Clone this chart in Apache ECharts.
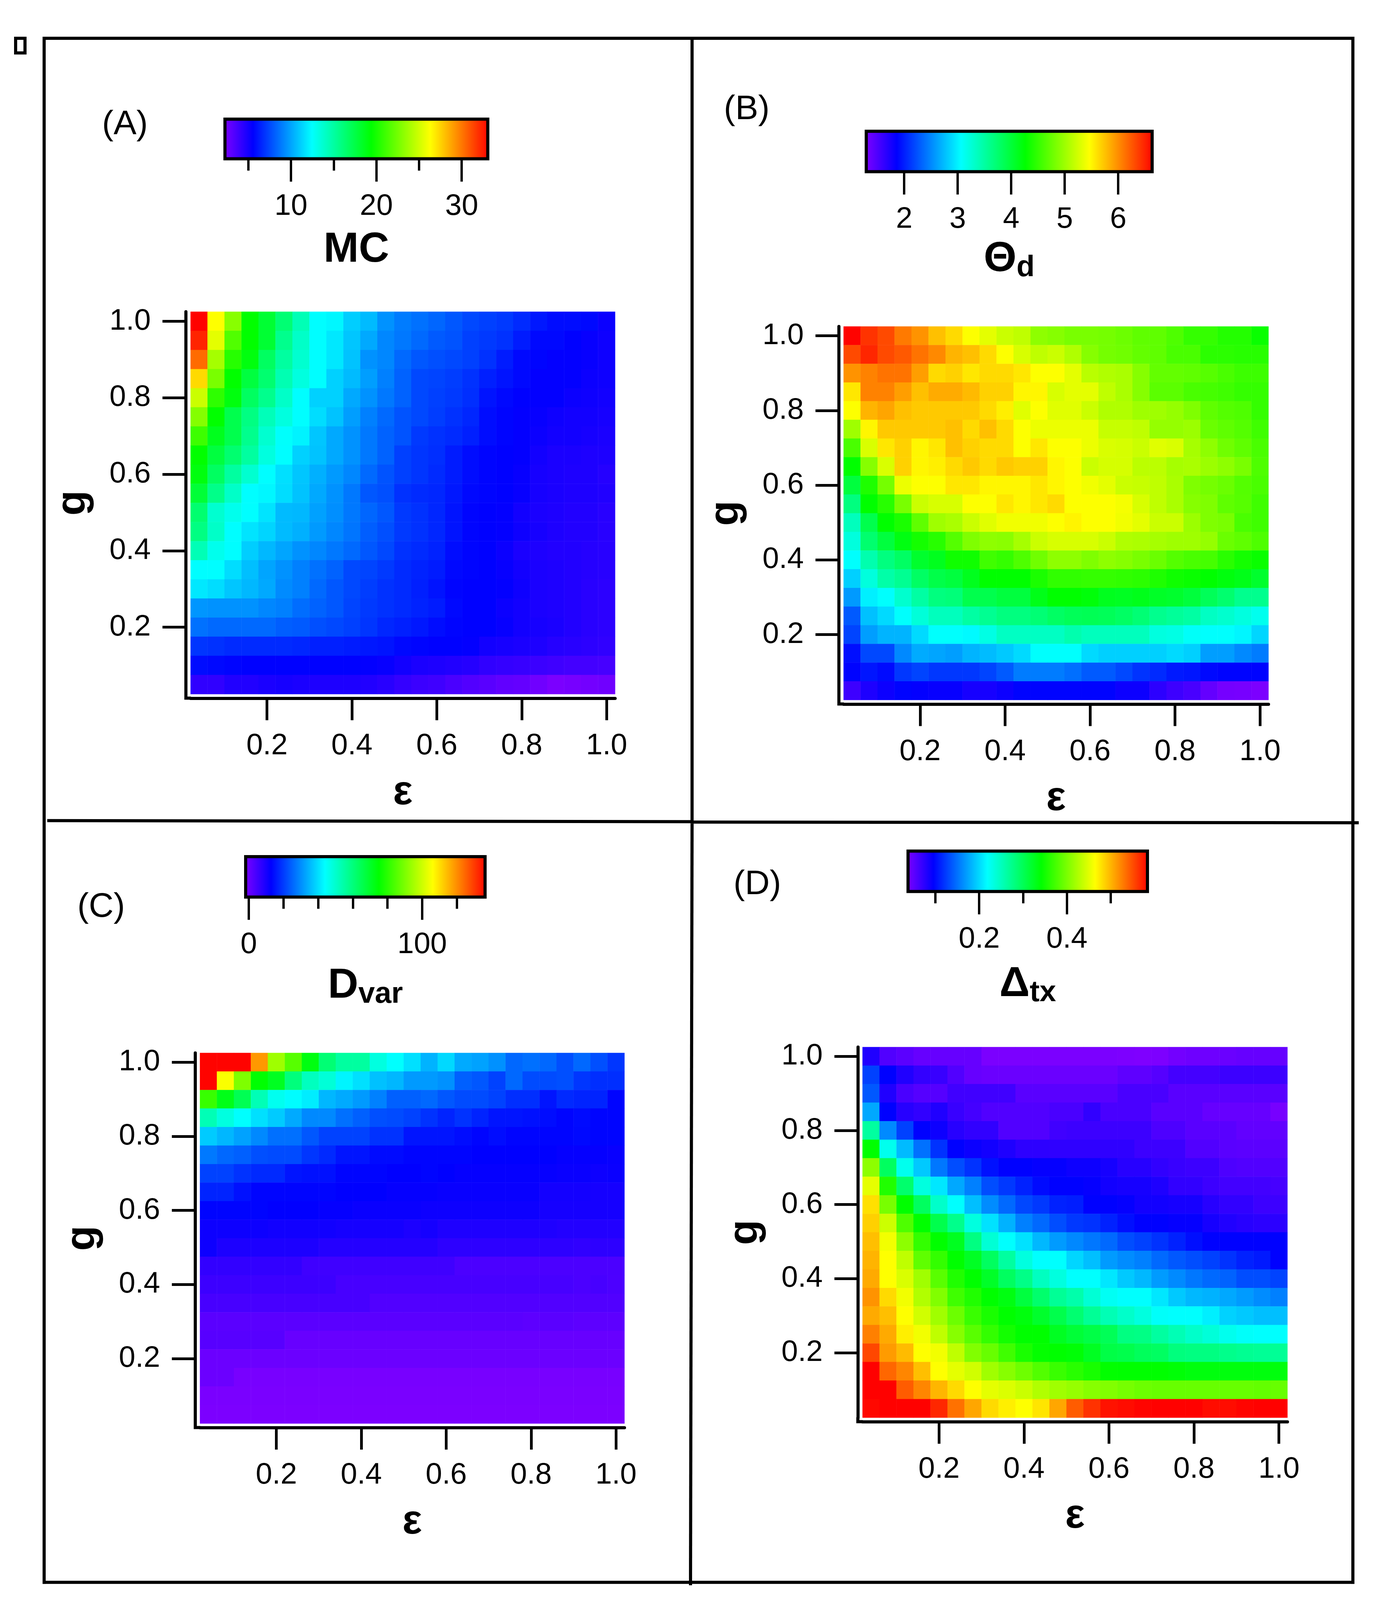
<!DOCTYPE html>
<html>
<head>
<meta charset="utf-8">
<style>html,body{margin:0;padding:0;background:#fff;overflow:hidden}</style>
<script src="https://cdn.jsdelivr.net/npm/echarts@6/dist/echarts.min.js"></script>
</head>
<body>
<div id="c"></div>
<script>
const xCategories = ['0.04','0.08','0.12','0.16','0.20','0.24','0.28','0.32','0.36','0.40','0.44','0.48','0.52','0.56','0.60','0.64','0.68','0.72','0.76','0.80','0.84','0.88','0.92','0.96','1.00'];
const yCategories = ['0.05','0.10','0.15','0.20','0.25','0.30','0.35','0.40','0.45','0.50','0.55','0.60','0.65','0.70','0.75','0.80','0.85','0.90','0.95','1.00'];
const axisTickLabels = ['0.2','0.4','0.6','0.8','1.0'];
const rainbow = ['#8000ff','#0000ff','#0080ff','#00ffff','#00ff80','#00ff00','#80ff00','#ffff00','#ff8000','#ff0000'];

// rows run top to bottom: g = 1.0 first, g = 0.05 last
const mcValues = [
[33,26.2,23,19.4,18,16.3,14.5,12.5,12.3,11.2,10.7,9.6,9,8.7,8.4,8,7.6,7.4,7.2,6.8,6.3,6,6,5.9,5.4],
[32.1,25.5,21.5,19.4,18,15.6,14,12.5,11.9,11,10.2,9.3,8.9,8.5,8.1,7.9,7.4,7.2,7,6.4,5.9,5.9,5.7,5.5,5.3],
[30.2,23.8,20.4,19,16.8,15.1,13.8,12.5,11.9,10.9,9.6,9.3,8.5,8,7.8,7.6,7.4,7,6.4,5.9,5.8,5.6,5.6,5.5,5.3],
[27.2,22.6,19.4,17.7,16.4,14.6,13.4,12.5,11.3,10.7,9.9,9.1,8.3,7.6,7.5,7.3,7,6.5,6.2,5.9,5.6,5.6,5.6,5.4,5.3],
[24.8,20.6,19,16.8,15.6,14,12.5,11.3,11.3,10.2,9.6,8.9,8.3,7.6,7.4,7.2,6.9,6.2,5.9,5.7,5.6,5.6,5.4,5.3,5.2],
[22.9,19.4,17.3,15.9,14.4,13.4,12.5,11.6,10.9,9.9,9.1,8.5,7.9,7.6,7.3,7,6.7,6,5.8,5.6,5.5,5.3,5.2,5.2,5.1],
[21,18.6,17.3,15.6,13.8,12.6,12.2,11,10.2,9.6,8.9,8.3,7.9,7.2,7,6.8,6.5,6,5.8,5.6,5.4,5.2,5.2,5.1,5],
[19.4,17.7,16.4,15.1,13.4,12.5,11.3,10.9,10.2,9.6,8.9,8.3,7.4,7.1,6.9,6.4,6,5.8,5.7,5.6,5.2,5,5,4.9,4.9],
[19,16.8,15.1,13.8,12.5,11.7,11,10.4,9.8,9.3,8.5,7.9,7.4,7.1,6.8,6.4,6,5.8,5.7,5.5,5.1,5,4.9,4.9,4.7],
[17.9,15.7,14,12.5,12.3,11.6,10.9,10.2,9.6,8.9,8,7.8,7,6.8,6.7,6.3,5.9,5.8,5.7,5.5,5.1,5,4.9,4.9,4.8],
[16.4,13.8,13,12.5,11.8,10.7,10.6,10,9.5,8.9,8.4,8,7.2,7,6.7,6.2,5.8,5.7,5.6,5.2,5,4.9,4.8,4.8,4.6],
[15.9,14,12.5,11.8,11.4,10.7,10.4,9.8,9.3,8.8,8.2,7.8,7.2,7,6.7,6.2,5.8,5.7,5.6,5.3,5.1,4.9,4.8,4.8,4.6],
[14.5,13,12.5,11.2,10.6,10.1,9.6,9.3,8.9,8.5,8,7.6,7,6.8,6.6,6,5.8,5.7,5.4,5,4.9,4.8,4.8,4.7,4.6],
[12.5,12.5,11.6,10.8,10.1,9.6,9.1,8.7,8.3,7.6,7.5,7.2,6.8,6.6,6.4,5.9,5.8,5.7,5.5,5.2,5,4.9,4.8,4.7,4.6],
[11.9,11.6,11,10.6,10.2,9.4,9.1,8.5,8,7.6,7.3,7,6.8,6.5,6.2,5.8,5.7,5.7,5.6,5.3,5,4.9,4.8,4.6,4.5],
[9.7,9.6,9.6,9.6,9.3,9.1,8.6,8.3,8,7.5,7.2,7,6.8,6.6,6.4,5.9,5.7,5.7,5.4,5.2,5,4.9,4.8,4.6,4.5],
[8.7,8.5,8.5,8.5,8.5,8.2,8.1,7.8,7.6,7.4,7.1,6.7,6.5,6.3,6,5.8,5.7,5.7,5.5,5.2,5.1,5,4.8,4.6,4.5],
[7.1,7,6.8,6.8,6.8,6.8,6.7,6.5,6.5,6.4,6.3,6.2,5.9,5.8,5.7,5.7,5.6,5.2,5.1,5,4.9,4.7,4.6,4.5,4.4],
[6,5.9,5.8,5.7,5.7,5.7,5.7,5.7,5.7,5.7,5.6,5.5,5.2,5,4.9,4.8,4.7,4.4,4.3,4.2,4.1,4,3.9,3.9,3.8],
[4.4,4.4,4.8,4.8,5,5.1,5,4.9,4.9,4.9,4.8,4.6,4.3,4.1,4,3.7,3.5,3.3,3.1,3,2.7,2.4,2.5,2.6,2.7]
];
const thetaValues = [
[6.62,6.4,6.29,6.07,5.95,5.74,5.62,5.44,5.32,5.2,5.15,4.92,4.88,4.82,4.82,4.8,4.76,4.7,4.7,4.62,4.5,4.5,4.42,4.42,4.3],
[6.29,6.46,6.29,6.22,6.1,6,5.8,5.74,5.62,5.44,5.26,5.15,5.2,5.08,4.88,4.8,4.78,4.72,4.7,4.6,4.6,4.46,4.46,4.44,4.44],
[5.95,6.03,6.1,6.1,5.9,5.62,5.66,5.56,5.62,5.62,5.56,5.44,5.44,5.32,5.12,5.08,5.05,4.88,4.72,4.72,4.7,4.66,4.6,4.54,4.54],
[5.56,6.03,6.03,5.9,5.74,5.84,5.84,5.77,5.66,5.66,5.49,5.49,5.26,5.32,5.32,5.15,5.05,4.88,4.68,4.68,4.6,4.58,4.55,4.5,4.5],
[5.44,5.8,5.87,5.74,5.7,5.7,5.7,5.7,5.62,5.52,5.3,5.44,5.3,5.3,5.2,5.08,5.08,5,5,4.95,4.85,4.7,4.65,4.62,4.5],
[5,5.49,5.7,5.7,5.7,5.7,5.74,5.62,5.74,5.62,5.44,5.36,5.36,5.36,5.36,5.18,5.18,5.15,4.95,4.95,4.98,4.75,4.7,4.65,4.55],
[4.6,5.27,5.56,5.66,5.49,5.56,5.74,5.66,5.62,5.62,5.44,5.56,5.44,5.44,5.36,5.27,5.25,5.2,5.3,5.27,5.03,4.92,4.78,4.7,4.6],
[4.26,4.88,5.27,5.66,5.49,5.52,5.62,5.7,5.62,5.7,5.66,5.66,5.49,5.44,5.2,5.25,5.25,5.13,5.13,5.03,5.05,4.98,4.92,4.82,4.62],
[3.97,4.4,4.8,5.36,5.44,5.44,5.56,5.56,5.49,5.49,5.49,5.56,5.49,5.44,5.38,5.32,5.2,5.18,5.15,5.05,4.85,4.8,4.75,4.65,4.6],
[3.67,4.26,4.44,4.82,5.2,5.26,5.26,5.44,5.44,5.56,5.49,5.56,5.62,5.44,5.44,5.44,5.4,5.26,5.15,5.05,4.88,4.85,4.7,4.66,4.55],
[3.38,3.9,4.26,4.38,4.7,5,5.05,5.2,5.3,5.38,5.38,5.38,5.44,5.5,5.44,5.44,5.38,5.32,5.2,5.2,4.98,4.85,4.82,4.6,4.55],
[3.23,3.75,3.97,4.18,4.35,4.44,4.65,4.85,4.92,4.9,5.03,5.2,5.26,5.26,5.26,5.2,5.08,5.06,5.03,5,5,4.95,4.75,4.7,4.62],
[3.08,3.45,3.67,3.8,4.05,4.12,4.33,4.33,4.55,4.5,4.62,4.78,4.92,4.92,4.85,4.92,4.88,4.82,4.75,4.65,4.6,4.58,4.45,4.35,4.3],
[2.85,3.23,3.48,3.58,3.8,3.92,3.97,4.12,4.26,4.26,4.26,4.38,4.48,4.48,4.5,4.5,4.48,4.46,4.4,4.33,4.3,4.26,4.2,4.15,4.05],
[2.6,3,3.08,3.3,3.5,3.67,3.7,3.9,3.9,3.97,3.97,4.15,4.26,4.26,4.22,4.12,4.1,4.14,4.08,4.05,3.98,3.85,3.75,3.6,3.6],
[2.3,2.78,2.9,3.08,3.25,3.38,3.38,3.5,3.58,3.67,3.67,3.72,3.8,3.85,3.87,3.85,3.8,3.72,3.6,3.55,3.5,3.35,3.3,3.22,3.15],
[2.2,2.62,2.72,2.72,2.9,3.08,3.08,3.05,3.2,3.35,3.35,3.35,3.35,3.45,3.38,3.38,3.38,3.38,3.22,3.2,3.1,3.08,3.08,3.03,2.88],
[1.95,2.22,2.22,2.52,2.68,2.65,2.62,2.72,2.76,2.82,2.9,3.08,3.08,3.08,2.9,2.85,2.85,2.85,2.85,2.9,2.85,2.62,2.62,2.52,2.46],
[1.9,1.98,1.93,2.14,2.2,2.14,2.14,2.14,2.2,2.3,2.46,2.46,2.46,2.4,2.3,2.3,2.22,2.12,2.08,2,1.98,1.92,1.9,1.9,1.9],
[1.6,1.75,1.83,1.9,1.87,1.85,1.85,1.78,1.78,1.83,1.9,1.9,1.9,1.9,1.9,1.9,1.83,1.83,1.68,1.6,1.55,1.42,1.34,1.33,1.31]
];
const dvarValues = [
[136,136,136,118,94,85.4,73,61,55.7,55.7,48,44.3,40.5,35,39.7,34,33,31,26,27,26,23,26,23,20],
[136,105,90,74.7,71,60,52,49,43,40.5,36.7,35.5,32,32,31,25,24,21.5,26,22.5,22.5,23,20,19,19],
[81.5,72,65,53,46,44,42,35.5,34,32,29,25,25,26,24,22.5,22.5,21.5,19,19,16,18.5,17.7,17.7,14],
[53,48,44.3,40.5,38,34,30,30,27,25,23,22.5,21.5,19.5,17.7,19.5,17.7,16,16,15.5,15,14,14.8,14,14],
[38,35.5,33,30,27,27,24,21.5,21.5,21.5,19.5,19.5,16,16,16,15,14,15,14,14,14,14,14.5,14,14],
[28,26,25,23,22.5,22.5,20,18.5,16,16,14.8,14.8,14,14,14,14,13.5,13.5,13.5,13.5,13.5,13,13,13,12.6],
[21.5,21.5,19.5,18.5,18.5,16,15.5,15.5,14,14,14,13.5,13.5,14,13.5,13,13,13,13,13,12.8,12.5,12.5,12,12.4],
[17.7,17.7,15.5,14,14,14,14,14,13.5,13.5,13.5,13,13,13,12.6,12.6,12.6,12.6,12.6,12.6,11.3,11.3,11.3,11,11],
[14,14,14,14,13.4,13.4,13.4,13,13,12.5,12.5,12.5,12.5,12,12,12,12,12,12,12,11,11,11,11,11],
[12,12,12,12,11.5,11.5,11.5,11.5,11,11,11,11,10.2,11,10,10,10,10,10,10,10,9.5,9.5,9.5,9.5],
[12,10.2,10.2,10.2,10.2,10.2,10.2,9.2,9.2,9.2,9.2,9.2,9.2,9.2,8.2,8.2,8.2,8.2,8.2,8.2,8.2,8.2,7.8,8.2,8.2],
[7.6,7.6,7.6,7.6,7.6,7.6,6,6,6,6,6,6,6,6,6,4.6,4.6,4.6,4.6,4.6,4.6,4.6,4.6,4.6,4.6],
[6.3,6.3,6.3,6.3,6.3,6.3,6.3,6.3,5,5,5,5,5,5,5,5,5,5,5,5,5,5,4.6,5,4.4],
[5,5,5,5,5,5,5,5,5,5,3.8,3.8,3.8,3.8,3.8,3.8,3.8,3.8,3.8,3.8,3.8,3.8,3.8,3.8,3.8],
[2.8,2.8,2.8,2.8,2.8,2.8,2.8,2.8,2.8,2.8,2.8,2.8,2.8,2.8,2.8,2.8,2.8,2.8,2.8,2.4,2.8,2.8,2.4,2.4,2.4],
[3.1,3.1,3.1,3.1,3.1,1.2,1.2,1.2,1.2,1.2,1.2,1.2,1.2,1.2,1.2,1.2,1.2,1.2,1.2,1.2,1.2,1.2,1.2,1.2,1.2],
[0.7,0.7,0.7,0.7,0.7,0.7,0.7,0.7,0.7,0.7,0.7,0.7,0.7,0.7,0.7,0.7,0.7,0.7,0.7,0.7,0.7,0.7,0.7,0.7,0.7],
[0.7,0.7,-0.8,-0.8,-0.8,-0.8,-0.8,-0.8,-0.8,-0.8,-0.8,-0.8,-0.8,-0.8,-0.8,-0.8,-0.8,-0.8,-0.8,-0.8,-0.8,-0.8,-0.8,-0.8,-0.8],
[-1.1,-1.1,-1.1,-1.1,-1.1,-1.1,-1.1,-1.1,-1.1,-1.1,-1.1,-1.1,-1.1,-1.1,-1.1,-1.1,-1.1,-1.1,-1.1,-1.1,-1.1,-1.1,-1.1,-1.1,-1.1],
[-1.3,-1.3,-1.3,-1.3,-1.3,-1.3,-1.3,-1.3,-1.3,-1.3,-1.3,-1.3,-1.3,-1.3,-1.3,-1.3,-1.3,-1.3,-1.3,-1.3,-1.3,-1.3,-1.3,-1.3,-1.3]
];
const deltaValues = [
[0.083,0.06,0.055,0.05,0.05,0.05,0.05,0.04,0.04,0.04,0.04,0.04,0.04,0.04,0.04,0.039,0.038,0.039,0.044,0.046,0.046,0.048,0.05,0.05,0.05],
[0.129,0.099,0.083,0.074,0.072,0.06,0.05,0.048,0.048,0.048,0.048,0.048,0.048,0.048,0.048,0.054,0.054,0.058,0.066,0.066,0.066,0.07,0.07,0.07,0.07],
[0.14,0.083,0.064,0.058,0.058,0.068,0.068,0.068,0.068,0.056,0.056,0.056,0.056,0.056,0.056,0.064,0.064,0.064,0.056,0.056,0.056,0.056,0.056,0.056,0.056],
[0.178,0.099,0.08,0.075,0.083,0.072,0.066,0.06,0.06,0.06,0.06,0.064,0.064,0.075,0.064,0.064,0.064,0.056,0.056,0.056,0.05,0.05,0.05,0.05,0.042],
[0.265,0.164,0.129,0.099,0.092,0.08,0.075,0.075,0.06,0.06,0.06,0.068,0.07,0.07,0.07,0.07,0.07,0.062,0.062,0.056,0.056,0.056,0.052,0.052,0.052],
[0.341,0.228,0.187,0.152,0.122,0.099,0.093,0.09,0.084,0.077,0.077,0.076,0.076,0.076,0.076,0.076,0.07,0.07,0.07,0.06,0.06,0.056,0.055,0.055,0.055],
[0.408,0.296,0.228,0.194,0.155,0.135,0.122,0.106,0.099,0.099,0.096,0.096,0.092,0.092,0.088,0.08,0.08,0.075,0.072,0.07,0.07,0.062,0.06,0.06,0.06],
[0.45,0.356,0.29,0.235,0.208,0.178,0.159,0.135,0.125,0.114,0.103,0.099,0.099,0.096,0.09,0.088,0.088,0.084,0.075,0.075,0.07,0.067,0.067,0.067,0.065],
[0.477,0.398,0.341,0.296,0.245,0.22,0.189,0.165,0.148,0.132,0.125,0.114,0.112,0.099,0.099,0.096,0.09,0.09,0.088,0.088,0.08,0.075,0.075,0.07,0.07],
[0.485,0.438,0.378,0.341,0.305,0.275,0.235,0.206,0.183,0.159,0.148,0.135,0.125,0.122,0.114,0.105,0.099,0.099,0.096,0.096,0.088,0.083,0.08,0.078,0.078],
[0.493,0.456,0.408,0.365,0.341,0.326,0.28,0.24,0.22,0.206,0.186,0.172,0.163,0.155,0.148,0.135,0.129,0.122,0.114,0.105,0.099,0.099,0.099,0.099,0.099],
[0.498,0.462,0.432,0.386,0.365,0.341,0.324,0.296,0.265,0.235,0.22,0.22,0.2,0.189,0.172,0.165,0.159,0.148,0.14,0.135,0.129,0.122,0.114,0.11,0.099],
[0.503,0.462,0.444,0.417,0.383,0.356,0.341,0.322,0.296,0.277,0.25,0.235,0.22,0.22,0.208,0.194,0.186,0.172,0.164,0.155,0.148,0.145,0.135,0.135,0.13],
[0.514,0.48,0.456,0.425,0.402,0.371,0.356,0.341,0.333,0.311,0.29,0.27,0.26,0.24,0.225,0.22,0.22,0.208,0.194,0.186,0.183,0.178,0.172,0.165,0.159],
[0.503,0.493,0.462,0.44,0.417,0.392,0.368,0.353,0.341,0.335,0.32,0.305,0.288,0.27,0.255,0.245,0.235,0.222,0.22,0.22,0.212,0.198,0.194,0.189,0.189],
[0.523,0.503,0.47,0.456,0.432,0.405,0.383,0.365,0.35,0.341,0.341,0.325,0.315,0.308,0.3,0.28,0.278,0.265,0.255,0.245,0.238,0.228,0.222,0.22,0.22],
[0.55,0.51,0.495,0.462,0.456,0.432,0.402,0.39,0.371,0.353,0.343,0.341,0.338,0.325,0.308,0.305,0.298,0.295,0.282,0.28,0.28,0.275,0.272,0.27,0.27],
[0.583,0.535,0.52,0.493,0.462,0.45,0.44,0.417,0.405,0.393,0.38,0.368,0.36,0.352,0.342,0.341,0.341,0.341,0.338,0.335,0.335,0.335,0.335,0.335,0.335],
[0.583,0.583,0.54,0.52,0.497,0.48,0.462,0.45,0.445,0.437,0.425,0.417,0.412,0.405,0.402,0.397,0.392,0.39,0.39,0.39,0.39,0.39,0.39,0.388,0.39],
[0.58,0.583,0.583,0.583,0.565,0.53,0.505,0.48,0.47,0.462,0.475,0.505,0.54,0.56,0.575,0.578,0.582,0.583,0.583,0.583,0.578,0.578,0.582,0.583,0.583]
];

const FONT = 'Liberation Sans';
// The layout below is in reference pixels (3536 x 4352). The vertical positions
// follow the window's real height, so the whole figure stays inside the photograph.
const REF_HEIGHT = 4352;
const sy = Math.min(1, (window.innerHeight || REF_HEIGHT) / REF_HEIGHT);
const Y = v => v * sy;
const pageHeight = Math.round(REF_HEIGHT * sy);

const panels = [
  {tag:'(A)', tagX:320, tagY:340, values:mcValues, heat:{left:488,top:848,width:1087,height:1040},
   bar:{left:576,top:324,width:673,height:108}, range:[2.26,33.06], major:[10,20,30], minor:[5,15,25],
   title:'{t|MC}', titleOffset:240, titleInset:52},
  {tag:'(B)', tagX:1912, tagY:298, values:thetaValues, heat:{left:2160,top:888,width:1088,height:1016},
   bar:{left:2218,top:357,width:732,height:110}, range:[1.29,6.635], major:[2,3,4,5,6], minor:[],
   title:'{t|Θ}{s|d}', titleOffset:241, titleInset:62},
  {tag:'(C)', tagX:259, tagY:2468, values:dvarValues, heat:{left:512,top:2864,width:1087,height:1008},
   bar:{left:629,top:2330,width:613,height:110}, range:[-1.8,136.3], major:[0,100], minor:[20,40,60,80,120],
   title:'{t|D}{s|var}', titleOffset:240, titleInset:58},
  {tag:'(D)', tagX:1939, tagY:2406, values:deltaValues, heat:{left:2208.5,top:2848,width:1088,height:1008},
   bar:{left:2325,top:2315,width:613,height:110}, range:[0.0377,0.5837], major:[0.2,0.4], minor:[0.1,0.3,0.5],
   title:'{t|Δ}{s|tx}', titleOffset:248, titleInset:56}
];

const grids = [], xAxes = [], yAxes = [], series = [], visualMaps = [], graphics = [];
const isTick = (i, v) => axisTickLabels.some(t => Number(t) === Number(v));
const tickText = v => Number(v).toFixed(1);
const gradientStops = rainbow.map((color, i) => ({offset: i / (rainbow.length - 1), color}));

panels.forEach(p => {
  // heatmap
  const gi = grids.length;
  grids.push({left:p.heat.left, top:Y(p.heat.top), width:p.heat.width, height:Y(p.heat.height), containLabel:false});
  const axisCommon = {
    type:'category', gridIndex:gi, boundaryGap:true,
    nameLocation:'middle',
    nameTextStyle:{fontFamily:FONT, fontWeight:'bold', fontSize:106, color:'#000'},
    axisLine:{show:true, lineStyle:{color:'#000', width:8}},
    axisTick:{show:true, alignWithLabel:true, interval:isTick, lineStyle:{color:'#000', width:7}},
    axisLabel:{show:true, interval:isTick, formatter:tickText, fontFamily:FONT, fontSize:76, color:'#000'},
    splitLine:{show:false}, splitArea:{show:false}
  };
  const xi = xAxes.length, yi = yAxes.length;
  const xOffset = 11 * sy;
  xAxes.push(Object.assign({}, axisCommon, {data:xCategories, position:'bottom', offset:xOffset, name:'ε', nameGap:262*sy-57,
    axisTick:Object.assign({}, axisCommon.axisTick, {length:60*sy}),
    axisLabel:Object.assign({}, axisCommon.axisLabel, {margin:130*sy-38})}));
  yAxes.push(Object.assign({}, axisCommon, {data:yCategories, position:'left', offset:12, name:'g', nameGap:234, nameRotate:90,
    axisTick:Object.assign({}, axisCommon.axisTick, {length:60}),
    axisLabel:Object.assign({}, axisCommon.axisLabel, {margin:90})}));
  const cells = [];
  p.values.forEach((row, r) => row.forEach((v, c) => cells.push([c, yCategories.length - 1 - r, v])));
  const si = series.length;
  series.push({type:'heatmap', xAxisIndex:xi, yAxisIndex:yi, data:cells, progressive:0, animation:false,
    itemStyle:{borderWidth:0}, emphasis:{disabled:true}});
  visualMaps.push({show:false, type:'continuous', seriesIndex:si, dimension:2, min:p.range[0], max:p.range[1],
    inRange:{color:rainbow}});

  // corner where the two axis lines meet
  const L = p.heat.left, B = Y(p.heat.top + p.heat.height);
  graphics.push({type:'polyline', z:50, shape:{points:[[L-12,B-1],[L-12,B+xOffset],[L+1,B+xOffset]]},
    style:{fill:'none', stroke:'#000', lineWidth:8, lineJoin:'miter'}});

  // colour bar
  const bg = grids.length;
  grids.push({left:p.bar.left, top:Y(p.bar.top), width:p.bar.width, height:Y(p.bar.height), containLabel:false});
  const bx = xAxes.length, by = yAxes.length;
  xAxes.push({type:'value', gridIndex:bg, position:'bottom', min:p.range[0], max:p.range[1],
    nameLocation:'middle', name:p.title, nameGap:p.titleOffset*sy-p.titleInset,
    nameTextStyle:{rich:{
      t:{fontFamily:FONT, fontWeight:'bold', fontSize:108, color:'#000', lineHeight:120},
      s:{fontFamily:FONT, fontWeight:'bold', fontSize:76, color:'#000', lineHeight:84, verticalAlign:'bottom'}
    }},
    axisLine:{show:false}, splitLine:{show:false},
    axisTick:{show:true, customValues:p.major, length:62*sy, lineStyle:{color:'#000', width:6}},
    axisLabel:{show:true, customValues:p.major, margin:130*sy-38, formatter:v => String(Math.round(v*10)/10),
      fontFamily:FONT, fontSize:76, color:'#000', hideOverlap:false}});
  yAxes.push({type:'value', gridIndex:bg, min:0, max:1, show:false});
  if (p.minor.length) {
    xAxes.push({type:'value', gridIndex:bg, position:'bottom', min:p.range[0], max:p.range[1],
      axisLine:{show:false}, splitLine:{show:false}, axisLabel:{show:false, customValues:p.minor},
      axisTick:{show:true, customValues:p.minor, length:32*sy, lineStyle:{color:'#000', width:6}}});
  }
  series.push({type:'custom', xAxisIndex:bx, yAxisIndex:by, clip:false, silent:true, z:5,
    data:[[p.range[0], 0, p.range[1], 1]],
    encode:{x:[0,2], y:[1,3]},
    renderItem:(params, api) => {
      const a = api.coord([api.value(0), api.value(1)]);
      const b = api.coord([api.value(2), api.value(3)]);
      return {type:'rect', shape:{x:a[0], y:b[1], width:b[0]-a[0], height:a[1]-b[1]},
        style:{fill:{type:'linear', x:0, y:0, x2:1, y2:0, colorStops:gradientStops}, stroke:'#000', lineWidth:8}};
    }});

  graphics.push({type:'text', x:p.tagX, y:Y(p.tagY), style:{text:p.tag, fontFamily:FONT, fontSize:88, fill:'#000', align:'center', verticalAlign:'middle'}});
});

// panel frame
const frameLines = [
  [113,104,3464,104],[113,100,113,4308],[3464,100,3464,4308],[109,4304,3468,4304],
  [1772,104,1772,2240],[1772,2240,1768,4312],
  [121,2232,1772,2235],[1772,2236,3479,2238]
];
frameLines.forEach(s => graphics.push({type:'line', shape:{x1:s[0], y1:Y(s[1]), x2:s[2], y2:Y(s[3])}, style:{stroke:'#000', lineWidth:8}}));
graphics.push({type:'rect', shape:{x:40, y:Y(104), width:24, height:Y(40)}, style:{fill:'#fff', stroke:'#000', lineWidth:8}});

const el = document.getElementById('c');
el.style.width = '3536px';
el.style.height = pageHeight + 'px';
const chart = echarts.init(el, null, {width:3536, height:pageHeight, renderer:'canvas'});
chart.setOption({
  animation:false, backgroundColor:'#fff',
  grid:grids, xAxis:xAxes, yAxis:yAxes, series:series, visualMap:visualMaps,
  graphic:{elements:graphics}, tooltip:{show:false}
});
</script>
</body>
</html>
